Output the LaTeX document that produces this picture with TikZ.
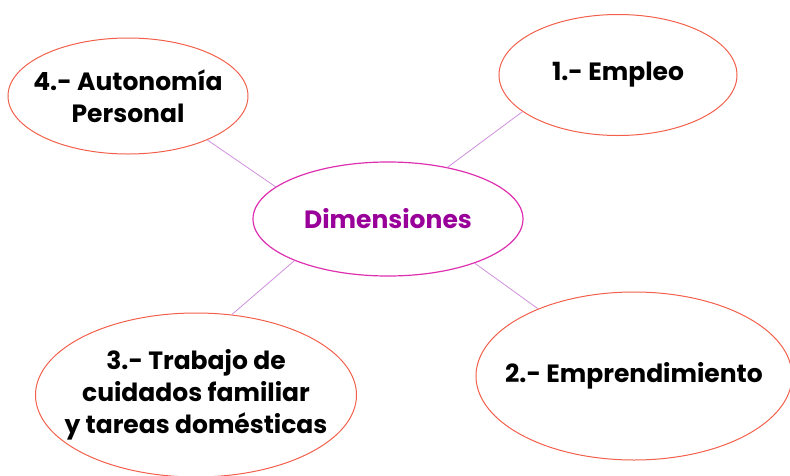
\documentclass[tikz,border=0pt]{standalone}
\usepackage{fontspec}
\setmainfont{Poppins}
\usepackage{tikz}
\usetikzlibrary{shapes.geometric,positioning}
\definecolor{hub}{HTML}{DD30B0}
\definecolor{hubtext}{HTML}{990099}
\definecolor{rim}{HTML}{F2604C}
\definecolor{spoke}{HTML}{D090DD}

\begin{document}
\begin{tikzpicture}[x=1pt,y=1pt,
    dim/.style={draw=hub,line width=1.2pt,ellipse,inner xsep=-40pt,inner ysep=-10pt,
        text=hubtext,font=\fontsize{25}{32}\selectfont\bfseries},
    area/.style={draw=rim,line width=1pt,ellipse,inner xsep=-60pt,inner ysep=-35pt,align=center,
        font=\fontsize{25}{32}\selectfont\bfseries},
    link/.style={draw=spoke,line width=0.8pt}]
\node[dim,minimum width=270pt,minimum height=114pt] (D) {Dimensiones};
\useasboundingbox (D) ++(-388,-256) rectangle +(790,475);
\path (D)
    to +(-260,123) node[area,minimum width=240pt,minimum height=116pt] (A4) {4.- Autonomía\\Personal}
    to +(230,144) node[area,minimum width=238pt,minimum height=121pt] (A1) {1.- Empleo}
    ;
\path (D)
    to +(-192,-176) node[area,minimum width=321pt,minimum height=164pt] (A3) {3.- Trabajo de\\cuidados familiar\\y tareas domésticas}
    to +(246,-157) node[area,minimum width=316pt,minimum height=168pt] (A2) {2.- Emprendimiento}
    ;
    \path (D.164) edge[link] (A4.-29);
    \path (D.41) edge[link] (A1.-159);
    \path (D.-156) edge[link] (A3.66);
    \path (D.-27) edge[link] (A2.145);
\end{tikzpicture}
\end{document}
